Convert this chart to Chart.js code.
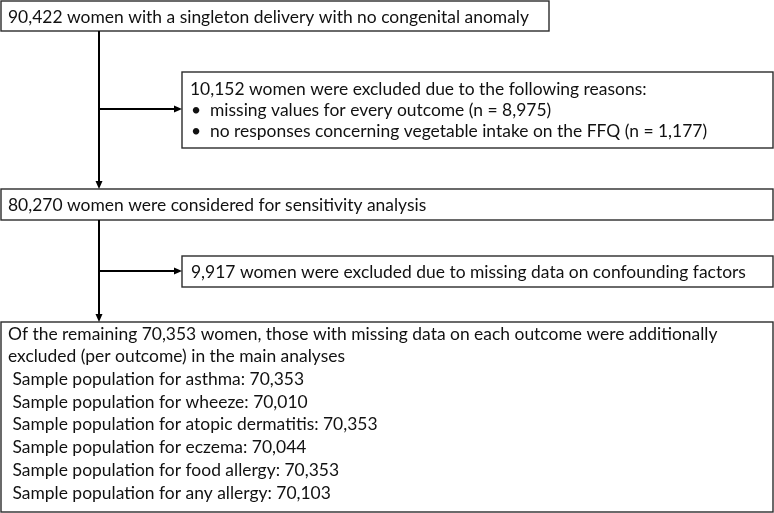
<!DOCTYPE html>
<html>
<head>
<meta charset="utf-8">
<script src="https://cdn.jsdelivr.net/npm/chart.js@4.4.0/dist/chart.umd.min.js"></script>
<style>
  html, body { margin: 0; padding: 0; background: #fff; }
  #wrap { width: 774px; height: 513px; }
</style>
</head>
<body>
<div id="wrap"><canvas id="flow" width="774" height="513"></canvas></div>
<script>
// Counts
const totalWomen = 90422;
const excludedFirst = 10152;
const excludedReasons = ['missing values for every outcome', 'no responses concerning vegetable intake on the FFQ'];
const excludedReasonCounts = [8975, 1177];
const sensitivityWomen = 80270;
const excludedConfounders = 9917;
const remainingWomen = 70353;
const outcomes = ['asthma', 'wheeze', 'atopic dermatitis', 'eczema', 'food allergy', 'any allergy'];
const outcomeSamples = [70353, 70010, 70353, 70044, 70353, 70103];

const fmt = n => n.toLocaleString('en-US');

// Text of each box
const box1Lines = [fmt(totalWomen) + ' women with a singleton delivery with no congenital anomaly'];
const box2Lines = [fmt(excludedFirst) + ' women were excluded due to the following reasons:']
  .concat(excludedReasons.map((r, i) => '\u2022' + r + ' (n = ' + fmt(excludedReasonCounts[i]) + ')'));
const box3Lines = [fmt(sensitivityWomen) + ' women were considered for sensitivity analysis'];
const box4Lines = [fmt(excludedConfounders) + ' women were excluded due to missing data on confounding factors'];
const box5Lines = [
  'Of the remaining ' + fmt(remainingWomen) + ' women, those with missing data on each outcome were additionally',
  'excluded (per outcome) in the main analyses'
].concat(outcomes.map((o, i) => ' Sample population for ' + o + ': ' + fmt(outcomeSamples[i])));

// Geometry in diagram units (the hidden scales run 0..774 and 0..513)
const boxes = [
  { x0: 1, y0: 1, x1: 549, y1: 31, tx: 8, ty: 17, step: 0, lines: box1Lines },
  { x0: 182, y0: 72, x1: 773, y1: 148, tx: 190, ty: 89, step: 21, lines: box2Lines },
  { x0: 1, y0: 189, x1: 773, y1: 220, tx: 8, ty: 205, step: 0, lines: box3Lines },
  { x0: 182, y0: 256, x1: 773, y1: 287, tx: 191, ty: 272, step: 0, lines: box4Lines },
  { x0: 1, y0: 322, x1: 773, y1: 512, tx: 8, ty: 334, step: 22.7, lines: box5Lines }
];
const arrows = [
  { from: [99, 31], to: [99, 189] },
  { from: [99, 109], to: [182, 109] },
  { from: [99, 220], to: [99, 322] },
  { from: [99, 271], to: [182, 271] }
];

const FONT = 'Lato, "Open Sans", sans-serif';

const flowPlugin = {
  id: 'flow',
  afterDraw(chart) {
    const ctx = chart.ctx;
    const sx = chart.scales.x, sy = chart.scales.y;
    const px = v => sx.getPixelForValue(v);
    const py = v => sy.getPixelForValue(v);

    // pick a font size so the widest known lines fit where they sit in the source
    ctx.save();
    ctx.font = '100px ' + FONT;
    const fits = [[box1Lines[0], 520], [box4Lines[0], 554], [box5Lines[0], 714]];
    let k = 0;
    fits.forEach(f => { k += f[1] / ctx.measureText(f[0]).width * 100; });
    const size = k / fits.length;
    ctx.restore();

    ctx.save();
    ctx.strokeStyle = '#2b2b2b';
    ctx.lineWidth = 1.4;
    boxes.forEach(b => {
      ctx.strokeRect(px(b.x0), py(b.y0), px(b.x1) - px(b.x0), py(b.y1) - py(b.y0));
    });

    ctx.fillStyle = '#111';
    ctx.font = size.toFixed(2) + 'px ' + FONT;
    ctx.textBaseline = 'middle';
    boxes.forEach(b => {
      b.lines.forEach((line, i) => {
        const y = py(b.ty + i * b.step);
        if (line.charAt(0) === '\u2022') {
          ctx.fillText('\u2022', px(b.tx + 1), y);
          ctx.fillText(line.slice(1), px(b.tx + 20), y);
        } else {
          ctx.fillText(line, px(b.tx), y);
        }
      });
    });

    // connectors with filled heads
    ctx.strokeStyle = '#000';
    ctx.fillStyle = '#000';
    ctx.lineWidth = 2;
    arrows.forEach(a => {
      const x0 = px(a.from[0]), y0 = py(a.from[1]);
      const x1 = px(a.to[0]), y1 = py(a.to[1]);
      const ang = Math.atan2(y1 - y0, x1 - x0);
      const len = 8, half = 3.5;
      ctx.beginPath();
      ctx.moveTo(x0, y0);
      ctx.lineTo(x1 - Math.cos(ang) * len, y1 - Math.sin(ang) * len);
      ctx.stroke();
      ctx.beginPath();
      ctx.moveTo(x1, y1);
      ctx.lineTo(x1 - Math.cos(ang) * len - Math.sin(ang) * half, y1 - Math.sin(ang) * len + Math.cos(ang) * half);
      ctx.lineTo(x1 - Math.cos(ang) * len + Math.sin(ang) * half, y1 - Math.sin(ang) * len - Math.cos(ang) * half);
      ctx.closePath();
      ctx.fill();
    });
    ctx.restore();
  }
};

new Chart(document.getElementById('flow').getContext('2d'), {
  type: 'scatter',
  data: { datasets: [{ data: [] }] },
  options: {
    responsive: false,
    animation: false,
    events: [],
    layout: { padding: 0 },
    plugins: { legend: { display: false }, tooltip: { enabled: false } },
    scales: {
      x: { type: 'linear', min: 0, max: 774, display: false },
      y: { type: 'linear', min: 0, max: 513, reverse: true, display: false }
    }
  },
  plugins: [flowPlugin]
});
</script>
</body>
</html>
